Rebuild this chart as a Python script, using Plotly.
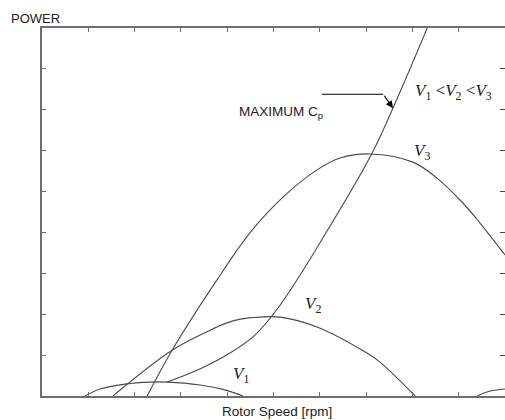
import plotly.graph_objects as go

# rotor speed (0-10 scale) and power (0-9 scale)
v1_x = [0.93, 1.25, 1.79, 2.33, 2.70, 3.41, 3.95, 4.34]
v1_y = [0.0, 0.17, 0.29, 0.34, 0.34, 0.27, 0.15, 0.0]

v2_x = [1.53, 2.81, 3.63, 3.95, 4.28, 4.71, 5.14, 5.94, 7.02, 7.30, 8.06]
v2_y = [0.0, 1.12, 1.61, 1.77, 1.88, 1.93, 1.93, 1.69, 1.05, 0.83, 0.0]

v3_x = [2.27, 2.81, 3.78, 4.49, 5.21, 5.94, 6.44, 7.08, 8.01, 8.53, 9.09, 9.46, 10.0]
v3_y = [0.0, 1.12, 2.84, 3.99, 4.87, 5.53, 5.82, 5.92, 5.72, 5.33, 4.72, 4.23, 3.45]

cp_x = [2.70, 3.41, 4.06, 4.60, 5.14, 6.00, 7.13, 7.73, 8.32]
cp_y = [0.34, 0.66, 1.05, 1.49, 2.22, 3.74, 5.94, 7.43, 9.0]

tail_x = [9.40, 9.68, 10.0]
tail_y = [0.0, 0.12, 0.17]

x_ticks = list(range(0, 11))
y_ticks = list(range(0, 10))

line_col = '#4a4a4a'
axis_col = '#6e6e6e'

fig = go.Figure()
for xs, ys in [(v1_x, v1_y), (v2_x, v2_y), (v3_x, v3_y), (cp_x, cp_y), (tail_x, tail_y)]:
    fig.add_trace(go.Scatter(x=xs, y=ys, mode='lines', line=dict(color=line_col, width=1.1, shape='spline'),
                             showlegend=False, hoverinfo='skip'))

# dummy trace so the mirrored axes exist
fig.add_trace(go.Scatter(x=[0], y=[0], xaxis='x2', yaxis='y2', mode='markers', marker=dict(opacity=0),
                         showlegend=False, hoverinfo='skip'))

sans = 'Liberation Sans, Arial, sans-serif'
serif = 'Liberation Serif, Times New Roman, serif'

fig.update_layout(
    width=505, height=420,
    margin=dict(l=42, r=0, t=28, b=24),
    paper_bgcolor='white', plot_bgcolor='white',
    xaxis=dict(range=[0, 10], tickvals=x_ticks, showticklabels=False, ticks='inside', ticklen=4,
               tickcolor=axis_col, showline=True, linecolor=axis_col, linewidth=1.5, showgrid=False,
               zeroline=False),
    yaxis=dict(range=[0, 9], tickvals=y_ticks, showticklabels=False, ticks='inside', ticklen=4,
               tickcolor=axis_col, showline=True, linecolor=axis_col, linewidth=2, showgrid=False,
               zeroline=False),
    xaxis2=dict(range=[0, 10], tickvals=x_ticks, showticklabels=False, ticks='inside', ticklen=4,
                tickcolor=axis_col, showline=True, linecolor=axis_col, linewidth=1.5, showgrid=False,
                zeroline=False, overlaying='x', side='top'),
    yaxis2=dict(range=[0, 9], tickvals=y_ticks, showticklabels=False, ticks='inside', ticklen=5,
                tickcolor='#444', tickwidth=1.2, showline=False, showgrid=False, zeroline=False,
                overlaying='y', side='right'),
)

fig.add_annotation(text='POWER', xref='paper', yref='paper', x=-0.015, y=1.027, xanchor='center',
                   yanchor='middle', showarrow=False, font=dict(family=sans, size=13, color='#222'))
fig.add_annotation(text='Rotor Speed [rpm]', xref='paper', yref='paper', x=0.508, y=-0.041,
                   xanchor='center', yanchor='middle', showarrow=False,
                   font=dict(family=sans, size=13.5, color='#222'))
fig.add_annotation(text='MAXIMUM C<sub>p</sub>', x=5.16, y=6.94, showarrow=False,
                   font=dict(family=sans, size=13.5, color='#222'))

# arrow pointing at the max Cp curve
fig.add_shape(type='line', x0=6.05, y0=7.38, x1=7.37, y1=7.38, line=dict(color='black', width=1.2))
fig.add_annotation(x=7.58, y=7.04, ax=7.37, ay=7.38, axref='x', ayref='y', text='', showarrow=True,
                   arrowhead=2, arrowsize=1.2, arrowwidth=1.2, arrowcolor='black')

vfont = dict(family=serif, size=17, color='#222')
fig.add_annotation(text='<i>V</i><sub>1</sub> <<i>V</i><sub>2</sub> <<i>V</i><sub>3</sub>', x=8.88, y=7.43,
                   showarrow=False, font=vfont)
fig.add_annotation(text='<i>V</i><sub>3</sub>', x=8.21, y=5.97, showarrow=False, font=vfont)
fig.add_annotation(text='<i>V</i><sub>2</sub>', x=5.85, y=2.22, showarrow=False, font=vfont)
fig.add_annotation(text='<i>V</i><sub>1</sub>', x=4.30, y=0.51, showarrow=False, font=vfont)

# drop the default body margin so the figure fills the window exactly
fig.write_html("out.html", config={'displayModeBar': False},
               post_script="document.body.style.margin='0';document.body.style.overflow='hidden';")
